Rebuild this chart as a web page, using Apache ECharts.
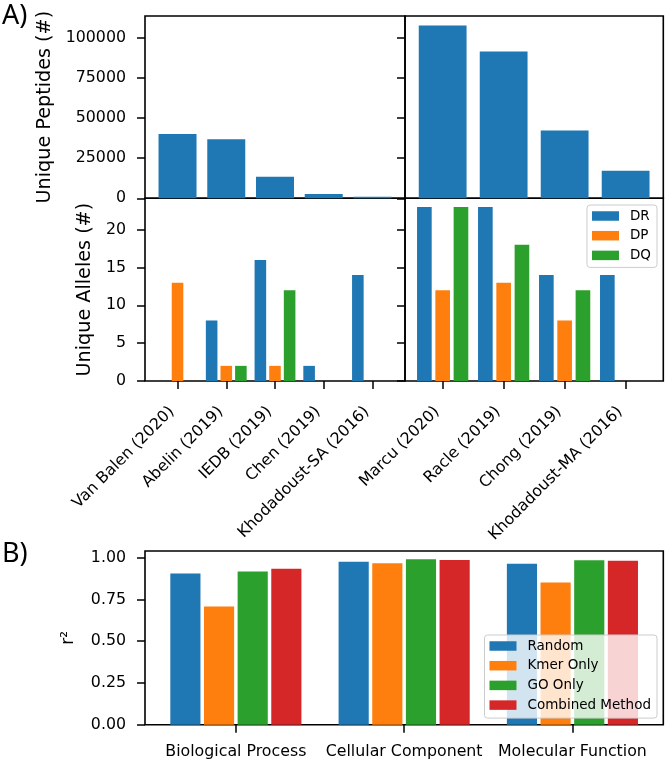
<!DOCTYPE html>
<html>
<head>
<meta charset="utf-8">
<script src="https://cdn.jsdelivr.net/npm/echarts@6/dist/echarts.min.js"></script>
<style>
html, body { margin: 0; padding: 0; background: #fff; }
#main { width: 667px; height: 761px; }
</style>
</head>
<body>
<div id="main"></div>
<script>
// panel A data
var singleStudies = ['Van Balen (2020)', 'Abelin (2019)', 'IEDB (2019)', 'Chen (2019)', 'Khodadoust-SA (2016)'];
var multiStudies = ['Marcu (2020)', 'Racle (2019)', 'Chong (2019)', 'Khodadoust-MA (2016)'];
var singlePeptides = [40000, 36700, 13400, 2700, 1000];
var multiPeptides = [107500, 91300, 42100, 17200];
var singleDR = [0, 8, 16, 2, 14];
var singleDP = [13, 2, 2, 0, 0];
var singleDQ = [0, 2, 12, 0, 0];
var multiDR = [23, 23, 14, 14];
var multiDP = [12, 13, 8, 0];
var multiDQ = [23, 18, 12, 0];
var peptideTicks = [0, 25000, 50000, 75000, 100000];
var alleleTicks = [0, 5, 10, 15, 20];

// panel B data
var goCategories = ['Biological Process', 'Cellular Component', 'Molecular Function'];
var goRandom = [0.905, 0.976, 0.964];
var goKmer = [0.707, 0.967, 0.851];
var goOnly = [0.917, 0.990, 0.985];
var goCombined = [0.933, 0.986, 0.982];
var r2Ticks = [0, 0.25, 0.5, 0.75, 1.0];

var FONT = 'DejaVu Sans';
var blue = '#1f77b4', orange = '#ff7f0e', green = '#2ca02c', red = '#d62728';

// frame geometry
var L = 145, MID = 405, R = 663.3;
var T1 = 16, Y1 = 198.3, Y2 = 381;
var BT = 551, BB = 724.7;

var xLeft = [-0.6675, 4.6675], xRight = [-0.6175, 3.6175], xB = [-0.54, 2.54];
var uLeft = (MID - L) / (xLeft[1] - xLeft[0]);
var uRight = (R - MID) / (xRight[1] - xRight[0]);
var uB = (R - L) / (xB[1] - xB[0]);

function frame(left, top, w, h) {
    return { left: left, top: top, width: w, height: h, show: true, borderColor: '#000', borderWidth: 1.6, backgroundColor: 'transparent' };
}

var tickStyle = { color: '#000', width: 1.5 };

function xAx(grid, range, names, ticks, rotate) {
    var ax = {
        type: 'value', gridIndex: grid, min: range[0], max: range[1],
        axisLine: { show: false, onZero: false }, splitLine: { show: false },
        axisTick: { show: false }, axisLabel: { show: false }
    };
    if (names) {
        ax.axisTick = { show: true, length: 8, lineStyle: tickStyle, customValues: ticks };
        ax.axisLabel = {
            show: true, customValues: ticks, color: '#000', fontSize: 15.8, fontFamily: FONT,
            formatter: function (v) { return names[Math.round(v)]; }
        };
        if (rotate) {
            ax.axisLabel.rotate = 45;
            ax.axisLabel.align = 'right';
            ax.axisLabel.verticalAlign = 'bottom';
            ax.axisLabel.margin = 34;
        } else {
            ax.axisLabel.margin = 19;
        }
    }
    return ax;
}

function yAx(grid, max, ticks, showLabels, name, gap, nameSize, fmt) {
    return {
        type: 'value', gridIndex: grid, min: 0, max: max,
        axisLine: { show: false, onZero: false }, splitLine: { show: false },
        axisTick: { show: true, length: 8, lineStyle: tickStyle, customValues: ticks },
        axisLabel: {
            show: showLabels, customValues: ticks, margin: 19, color: '#000', fontSize: 15.8, fontFamily: FONT,
            formatter: fmt || function (v) { return String(v); }
        },
        name: name || '', nameLocation: 'middle', nameGap: gap || 0,
        nameTextStyle: { color: '#000', fontSize: nameSize || 19, fontFamily: FONT }
    };
}

function pts(vals, shift) {
    return vals.map(function (v, i) { return [i + shift, v]; });
}

function bars(name, xi, vals, shift, width, color) {
    return {
        type: 'bar', name: name, xAxisIndex: xi, yAxisIndex: xi,
        data: pts(vals, shift), barWidth: width, barGap: '-100%',
        itemStyle: { color: color }, silent: true, animation: false
    };
}

var chart = echarts.init(document.getElementById('main'));

var legendBase = {
    orient: 'vertical', right: 10,
    icon: 'rect', itemWidth: 27, itemHeight: 9.5, itemGap: 5.7,
    backgroundColor: 'rgba(255,255,255,0.8)',
    borderColor: '#cccccc', borderWidth: 1, borderRadius: 3,
    textStyle: { color: '#000', fontSize: 13.5, fontFamily: FONT, lineHeight: 14, padding: [0, 0, 0, 6] },
    selectedMode: false
};

var option = {
    animation: false,
    title: [
        { text: 'A)', left: 2, top: 3, padding: 0, textStyle: { fontSize: 27, fontWeight: 'normal', fontFamily: 'Noto Sans', color: '#000' } },
        { text: 'B)', left: 2, top: 541, padding: 0, textStyle: { fontSize: 27, fontWeight: 'normal', fontFamily: 'Noto Sans', color: '#000' } }
    ],
    grid: [
        frame(L, T1, MID - L, Y1 - T1),
        frame(MID, T1, R - MID, Y1 - T1),
        frame(L, Y1, MID - L, Y2 - Y1),
        frame(MID, Y1, R - MID, Y2 - Y1),
        frame(L, BT, R - L, BB - BT)
    ],
    xAxis: [
        xAx(0, xLeft),
        xAx(1, xRight),
        xAx(2, xLeft, singleStudies, [0, 1, 2, 3, 4], true),
        xAx(3, xRight, multiStudies, [0, 1, 2, 3], true),
        xAx(4, xB, goCategories, [0, 1, 2], false)
    ],
    yAxis: [
        yAx(0, 113400, peptideTicks, true, 'Unique Peptides (#)', 90, 19.2),
        yAx(1, 113400, peptideTicks, false),
        yAx(2, 24.15, alleleTicks, true, 'Unique Alleles (#)', 50, 19.2),
        yAx(3, 24.15, alleleTicks, false),
        yAx(4, 1.04, r2Ticks, true, 'r\u00b2', 68, 17, function (v) { return v.toFixed(2); })
    ],
    legend: [
        Object.assign({}, legendBase, { data: ['DR', 'DP', 'DQ'], top: 205, padding: [4, 6, 5, 5] }),
        Object.assign({}, legendBase, { data: ['Random', 'Kmer Only', 'GO Only', 'Combined Method'], top: 635, padding: [4, 6, 6, 5] })
    ],
    series: [
        bars('Peptides', 0, singlePeptides, 0, 0.8 * uLeft - 1, blue),
        bars('Peptides', 1, multiPeptides, 0, 0.8 * uRight - 1, blue),

        bars('DR', 2, singleDR, -0.3, 0.25 * uLeft - 0.6, blue),
        bars('DP', 2, singleDP, 0, 0.25 * uLeft - 0.6, orange),
        bars('DQ', 2, singleDQ, 0.3, 0.25 * uLeft - 0.6, green),
        bars('DR', 3, multiDR, -0.3, 0.25 * uRight - 0.6, blue),
        bars('DP', 3, multiDP, 0, 0.25 * uRight - 0.6, orange),
        bars('DQ', 3, multiDQ, 0.3, 0.25 * uRight - 0.6, green),

        bars('Random', 4, goRandom, -0.3, 0.2 * uB - 3.5, blue),
        bars('Kmer Only', 4, goKmer, -0.1, 0.2 * uB - 3.5, orange),
        bars('GO Only', 4, goOnly, 0.1, 0.2 * uB - 3.5, green),
        bars('Combined Method', 4, goCombined, 0.3, 0.2 * uB - 3.5, red)
    ]
};

chart.setOption(option);
</script>
</body>
</html>
